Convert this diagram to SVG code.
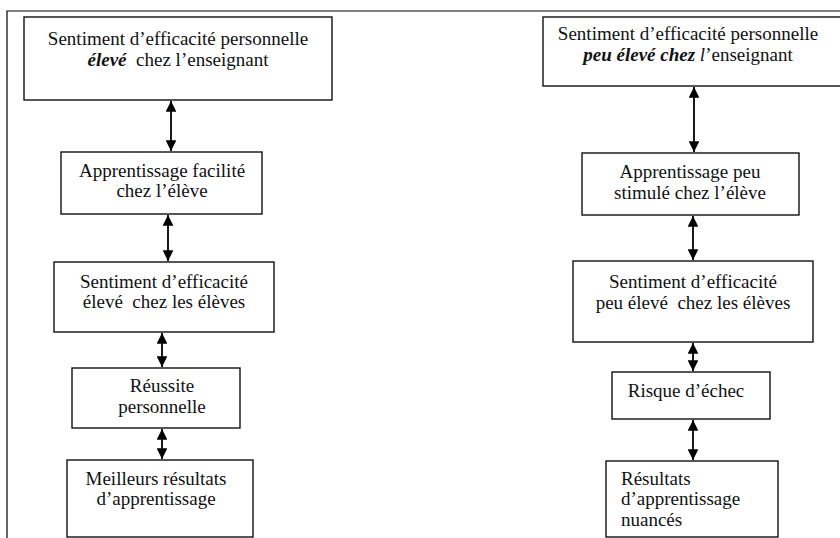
<svg xmlns="http://www.w3.org/2000/svg" width="840" height="538" viewBox="0 0 840 538">
<defs>
<style>
.frame{fill:none;stroke:#000;stroke-width:1.2}
.box{fill:#fff;stroke:#111;stroke-width:1.4}
text{font-family:'Liberation Serif','DejaVu Serif','Times New Roman',Times,serif;font-size:19px;fill:#111}
.t{text-anchor:middle}
.bi{font-weight:bold;font-style:italic}
.i{font-style:italic}
.conn{stroke:#000;stroke-width:1.8;fill:none;marker-start:url(#ah);marker-end:url(#ah)}
</style>
<marker id="ah" viewBox="0 0 10 10" refX="10" refY="5" markerWidth="6" markerHeight="6" markerUnits="strokeWidth" orient="auto-start-reverse">
<path d="M0,0 L10,5 L0,10 Z" fill="#000"/>
</marker>
</defs>
<path class="frame" d="M7,538 V11 H840"/>
<g id="connectors">
<line class="conn" x1="171" y1="101" x2="171" y2="151"/>
<line class="conn" x1="168" y1="215" x2="168" y2="261"/>
<line class="conn" x1="162" y1="333" x2="162" y2="367"/>
<line class="conn" x1="162" y1="429" x2="162" y2="459"/>
<line class="conn" x1="694" y1="87" x2="694" y2="152"/>
<line class="conn" x1="693" y1="216" x2="693" y2="260"/>
<line class="conn" x1="693" y1="343" x2="693" y2="371"/>
<line class="conn" x1="693" y1="420" x2="693" y2="460"/>
</g>
<g id="l1">
<rect class="box" x="24" y="17" width="308" height="83"/>
<text class="t" x="178" y="45" font-family="Liberation Serif, serif">Sentiment d’efficacité personnelle</text>
<text class="t" x="178" y="66" xml:space="preserve"><tspan class="bi">élevé</tspan>  chez l’enseignant</text>
</g>
<g id="l2">
<rect class="box" x="61" y="152" width="201" height="62"/>
<text class="t" x="162" y="177">Apprentissage facilité</text>
<text class="t" x="162" y="197">chez l’élève</text>
</g>
<g id="l3">
<rect class="box" x="54" y="262" width="220" height="70"/>
<text class="t" x="164" y="288">Sentiment d’efficacité</text>
<text class="t" x="164" y="308" xml:space="preserve">élevé  chez les élèves</text>
</g>
<g id="l4">
<rect class="box" x="72" y="368" width="168" height="60"/>
<text class="t" x="162" y="392">Réussite</text>
<text class="t" x="162" y="413">personnelle</text>
</g>
<g id="l5">
<rect class="box" x="67" y="460" width="186" height="77"/>
<text class="t" x="156" y="485">Meilleurs résultats</text>
<text class="t" x="156" y="505">d’apprentissage</text>
</g>
<g id="r1">
<rect class="box" x="543" y="17" width="300" height="69"/>
<text class="t" x="688" y="40">Sentiment d’efficacité personnelle</text>
<text class="t" x="688" y="61"><tspan class="bi">peu élevé chez </tspan><tspan class="i">l</tspan>’enseignant</text>
</g>
<g id="r2">
<rect class="box" x="582" y="153" width="217" height="62"/>
<text class="t" x="690" y="178">Apprentissage peu</text>
<text class="t" x="690" y="199">stimulé chez l’élève</text>
</g>
<g id="r3">
<rect class="box" x="573" y="261" width="240" height="81"/>
<text class="t" x="693" y="288">Sentiment d’efficacité</text>
<text class="t" x="693" y="309" xml:space="preserve">peu élevé  chez les élèves</text>
</g>
<g id="r4">
<rect class="box" x="612" y="372" width="158" height="47"/>
<text class="t" x="686" y="397">Risque d’échec</text>
</g>
<g id="r5">
<rect class="box" x="606" y="461" width="172" height="76"/>
<text x="621" y="485">Résultats</text>
<text x="621" y="505">d’apprentissage</text>
<text x="621" y="526">nuancés</text>
</g>
</svg>
